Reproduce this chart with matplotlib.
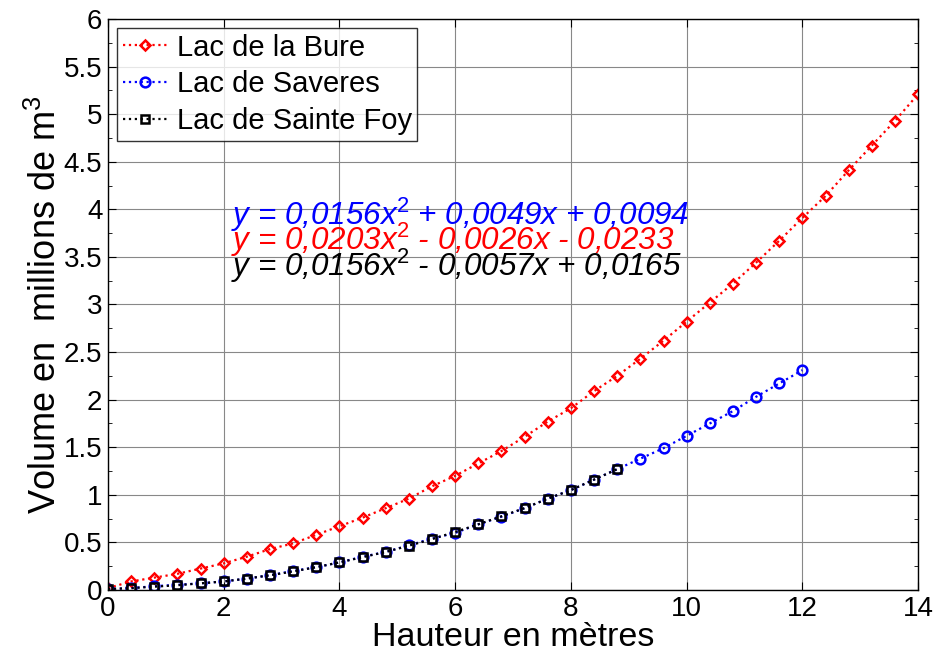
import matplotlib
matplotlib.use("Agg")
import matplotlib.pyplot as plt
from matplotlib.ticker import MultipleLocator

plt.rcParams['font.family'] = ['Liberation Sans', 'DejaVu Sans']
plt.rcParams['mathtext.fontset'] = 'custom'
plt.rcParams['mathtext.rm'] = 'Liberation Sans'
plt.rcParams['mathtext.it'] = 'Liberation Sans:italic'

x_bure = [0, 0.4, 0.8, 1.2, 1.6, 2.0, 2.4, 2.8, 3.2, 3.6, 4.0, 4.4, 4.8, 5.2, 5.6, 6.0, 6.4, 6.8,
          7.2, 7.6, 8.0, 8.4, 8.8, 9.2, 9.6, 10.0, 10.4, 10.8, 11.2, 11.6, 12.0, 12.4, 12.8, 13.2, 13.6, 14.0]
y_bure = [0.02, 0.09, 0.13, 0.17, 0.225, 0.28, 0.35, 0.43, 0.49, 0.58, 0.67, 0.76, 0.86, 0.96, 1.09, 1.20, 1.33, 1.46,
          1.61, 1.77, 1.91, 2.09, 2.25, 2.43, 2.62, 2.82, 3.02, 3.22, 3.44, 3.67, 3.91, 4.14, 4.41, 4.67, 4.93, 5.21]

x_sav = [0, 0.4, 0.8, 1.2, 1.6, 2.0, 2.4, 2.8, 3.2, 3.6, 4.0, 4.4, 4.8, 5.2, 5.6, 6.0, 6.4, 6.8,
         7.2, 7.6, 8.0, 8.4, 8.8, 9.2, 9.6, 10.0, 10.4, 10.8, 11.2, 11.6, 12.0]
y_sav = [0.01, 0.02, 0.04, 0.055, 0.07, 0.09, 0.12, 0.155, 0.20, 0.24, 0.29, 0.35, 0.40, 0.47, 0.54, 0.60, 0.69, 0.77,
         0.86, 0.96, 1.05, 1.16, 1.27, 1.38, 1.49, 1.62, 1.75, 1.88, 2.03, 2.17, 2.31]

x_foy = [0, 0.4, 0.8, 1.2, 1.6, 2.0, 2.4, 2.8, 3.2, 3.6, 4.0, 4.4, 4.8, 5.2, 5.6, 6.0, 6.4, 6.8,
         7.2, 7.6, 8.0, 8.4, 8.8]
y_foy = [0.01, 0.02, 0.035, 0.05, 0.07, 0.09, 0.12, 0.155, 0.195, 0.24, 0.29, 0.345, 0.40, 0.465, 0.535, 0.61, 0.69, 0.775,
         0.86, 0.96, 1.05, 1.16, 1.27]

labels = ["Lac de la Bure", "Lac de Saveres", "Lac de Sainte Foy"]
equations = ["y = 0,0156x$^2$ + 0,0049x + 0,0094",
             "y = 0,0203x$^2$ - 0,0026x - 0,0233",
             "y = 0,0156x$^2$ - 0,0057x + 0,0165"]
eq_colors = ["#0000ff", "#ff0000", "#000000"]
eq_pos = [(2.12, 3.84), (2.12, 3.57), (2.12, 3.30)]

ytick_vals = [0, 0.5, 1, 1.5, 2, 2.5, 3, 3.5, 4, 4.5, 5, 5.5, 6]
ytick_labels = ['0', '0.5', '1', '1.5', '2', '2.5', '3', '3.5', '4', '4.5', '5', '5.5', '6']

fig = plt.figure(figsize=(9.34, 6.61), dpi=100)
ax = fig.add_axes([0.1156, 0.1074, 0.8674, 0.8639])

ax.plot(x_bure, y_bure, linestyle=':', color='#ff0000', lw=1.6, marker='D', ms=5.5,
        mfc='none', mec='#ff0000', mew=1.8, label=labels[0])
ax.plot(x_sav, y_sav, linestyle=':', color='#0000ff', lw=1.6, marker='o', ms=7,
        mfc='none', mec='#0000ff', mew=1.8, label=labels[1])
ax.plot(x_foy, y_foy, linestyle=':', color='#000000', lw=1.6, marker='s', ms=6.2,
        mfc='none', mec='#000000', mew=1.8, label=labels[2])

for eq, c, (ex, ey) in zip(equations, eq_colors, eq_pos):
    ax.text(ex, ey, eq, color=c, fontsize=22.6, style='italic', ha='left', va='baseline')

ax.set_xlim(0, 14)
ax.set_ylim(0, 6)
ax.xaxis.set_major_locator(MultipleLocator(2))
ax.set_yticks(ytick_vals)
ax.set_yticklabels(ytick_labels)
ax.yaxis.set_minor_locator(MultipleLocator(0.25))
ax.tick_params(which='both', direction='in', top=True, right=True, labelsize=20)
ax.tick_params(which='major', length=6, pad=4)
ax.tick_params(which='minor', length=3)
ax.grid(True, which='major', color='#888888', lw=0.8, linestyle='-')
ax.set_axisbelow(True)
for s in ax.spines.values():
    s.set_linewidth(1.0)

ax.set_xlabel("Hauteur en mètres", fontsize=24.5, labelpad=0)
ax.set_ylabel("Volume en  millions de m$^3$", fontsize=26, labelpad=0)

leg = ax.legend(loc='upper left', bbox_to_anchor=(0.0, 1.0), fontsize=21, frameon=True,
                fancybox=False, edgecolor='black', handlelength=1.55, handletextpad=0.3,
                borderpad=0.2, labelspacing=0.3, borderaxespad=0.3)
leg.get_frame().set_linewidth(1.0)

fig.savefig("out.png", dpi=100)
